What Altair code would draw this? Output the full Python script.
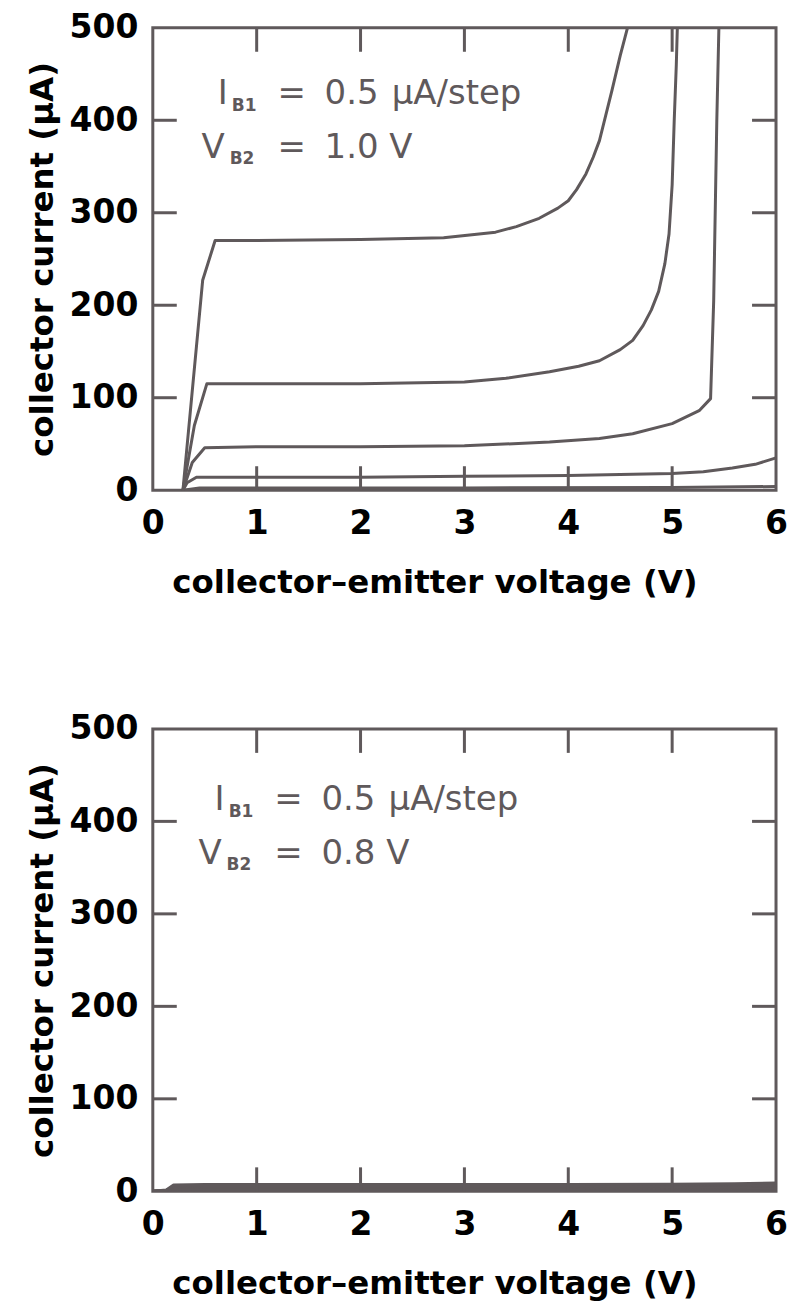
import altair as alt
import pandas as pd

# ---- output characteristics, V_B2 = 1.0 V (collector-emitter voltage in V, collector current in uA)
vce_a1 = [0.29, 0.48, 0.60, 1.0, 2.0, 2.8, 3.3, 3.5, 3.72, 3.9, 4.0, 4.08, 4.17, 4.24, 4.30, 4.36, 4.42, 4.50, 4.57]
ic_a1 = [0, 227, 270, 270, 271, 273, 279, 285, 294, 305, 313, 325, 342, 360, 378, 405, 432, 470, 500]

vce_a2 = [0.29, 0.40, 0.52, 1.0, 2.0, 3.0, 3.4, 3.82, 4.1, 4.30, 4.5, 4.62, 4.72, 4.80, 4.87, 4.93, 4.97, 5.0, 5.02, 5.04, 5.05]
ic_a2 = [0, 70, 115, 115, 115, 117, 121, 128, 134, 140, 152, 162, 178, 195, 215, 245, 277, 330, 400, 460, 500]

vce_a3 = [0.29, 0.38, 0.50, 1.0, 2.0, 3.0, 3.82, 4.3, 4.62, 5.0, 5.26, 5.37, 5.40, 5.43, 5.45]
ic_a3 = [0, 30, 46, 47, 47, 48, 52, 56, 61, 72, 86, 99, 205, 400, 500]

vce_a4 = [0.29, 0.33, 0.42, 1.0, 2.0, 3.0, 4.0, 5.0, 5.3, 5.58, 5.8, 6.0]
ic_a4 = [0, 8, 14, 14, 14, 15, 16, 18, 20, 24, 28, 35]

vce_a5 = [0.29, 0.45, 1.0, 3.0, 5.0, 6.0]
ic_a5 = [0, 2.5, 2.5, 2.5, 3, 4]

# ---- output characteristics, V_B2 = 0.8 V
vce_b = [0.0, 0.13, 0.20, 0.5, 1.0, 2.0, 3.0, 4.0, 5.0, 5.6, 6.0]
ic_b1 = [0, 0.3, 1.2, 1.5, 1.5, 1.5, 1.5, 1.5, 1.6, 1.8, 2.0]
ic_b2 = [0, 0.6, 2.6, 3.0, 3.0, 3.0, 3.0, 3.0, 3.2, 3.5, 3.8]
ic_b3 = [0, 0.9, 4.0, 4.5, 4.5, 4.4, 4.4, 4.5, 4.7, 5.0, 5.5]
ic_b4 = [0, 1.2, 5.4, 6.0, 6.0, 5.9, 5.9, 6.0, 6.2, 6.6, 7.2]
ic_b5 = [0, 1.5, 6.8, 7.5, 7.5, 7.3, 7.3, 7.4, 7.7, 8.2, 9.0]

x_ticks = [1, 2, 3, 4, 5]
y_ticks = [100, 200, 300, 400]
x_labels = [0, 1, 2, 3, 4, 5, 6]
y_labels = [0, 100, 200, 300, 400, 500]

GRAY = "#5f595b"
FONT = "DejaVu Sans"
W, H = 624, 463
TICK = 24


def curves_frame(pairs):
    rows = []
    for name, xs, ys in pairs:
        for k, (v, i) in enumerate(zip(xs, ys)):
            rows.append({"curve": name, "k": k, "v": v, "i": i})
    return pd.DataFrame(rows)


def panel(curves, vb2_text, dx, dy):
    xs = alt.Scale(domain=[0, 6], nice=False, zero=False)
    ys = alt.Scale(domain=[0, 500], nice=False)
    x_axis = alt.Axis(values=x_labels, title="collector–emitter voltage (V)", labelFlush=False,
                      labelPadding=17, titlePadding=26, titleX=282, format="d")
    y_axis = alt.Axis(values=y_labels, title="collector current (µA)", labelPadding=15,
                      titlePadding=10, format="d")
    X = alt.X("v:Q", scale=xs, axis=x_axis)
    Y = alt.Y("i:Q", scale=ys, axis=y_axis)

    lines = alt.Chart(curves).mark_line(color=GRAY, strokeWidth=3, clip=True,
                                        strokeJoin="round", strokeCap="round").encode(
        x=X, y=Y, detail="curve:N", order="k:Q")

    tick_style = dict(color=GRAY, strokeWidth=3)
    xt = pd.DataFrame({"v": x_ticks})
    yt = pd.DataFrame({"i": y_ticks})
    bottom = alt.Chart(xt).mark_rule(**tick_style).encode(
        x=X, y=alt.value(H - TICK), y2=alt.value(H))
    top = alt.Chart(xt).mark_rule(**tick_style).encode(
        x=X, y=alt.value(0), y2=alt.value(TICK))
    left = alt.Chart(yt).mark_rule(**tick_style).encode(
        y=Y, x=alt.value(0), x2=alt.value(TICK))
    right = alt.Chart(yt).mark_rule(**tick_style).encode(
        y=Y, x=alt.value(W - TICK), x2=alt.value(W))

    # legend text, positioned in data units
    main = pd.DataFrame({
        "t": ["I", "=", "0.5", "µA/step", "V", "=", vb2_text],
        "v": [0.625, 1.20, 1.654, 2.30, 0.47, 1.20, 1.654],
        "i": [418, 418, 418, 418, 359.6, 359.6, 359.6],
    })
    main["v"] = main["v"] + dx
    main["i"] = main["i"] + dy
    subs = pd.DataFrame({"t": ["B1", "B2"], "v": [0.76, 0.74], "i": [410.4, 353.0]})
    subs["v"] = subs["v"] + dx
    subs["i"] = subs["i"] + dy

    txt_main = alt.Chart(main).mark_text(font=FONT, fontSize=34, color=GRAY, align="left",
                                         baseline="alphabetic").encode(x=X, y=Y, text="t:N")
    txt_sub = alt.Chart(subs).mark_text(font=FONT, fontSize=17, fontWeight="bold", color=GRAY,
                                        align="left", baseline="alphabetic").encode(x=X, y=Y, text="t:N")

    return alt.layer(lines, bottom, top, left, right, txt_main, txt_sub).properties(width=W, height=H)


top_curves = curves_frame([
    ("a1", vce_a1, ic_a1), ("a2", vce_a2, ic_a2), ("a3", vce_a3, ic_a3),
    ("a4", vce_a4, ic_a4), ("a5", vce_a5, ic_a5),
])
bot_curves = curves_frame([
    ("b1", vce_b, ic_b1), ("b2", vce_b, ic_b2), ("b3", vce_b, ic_b3),
    ("b4", vce_b, ic_b4), ("b5", vce_b, ic_b5),
])

chart = alt.vconcat(
    panel(top_curves, "1.0 V", 0.0, 0.0),
    panel(bot_curves, "0.8 V", -0.03, -5.4),
    spacing=111,
).properties(
    padding={"left": 24, "top": 9, "right": 0, "bottom": 0},
    background="white",
).configure_view(
    stroke=GRAY, strokeWidth=3
).configure_axis(
    grid=False, ticks=False, domain=False,
    labelFont=FONT, labelFontSize=33, labelFontWeight="bold", labelColor="black",
    titleFont=FONT, titleFontSize=32.5, titleFontWeight="bold", titleColor="black",
)

chart.save("out.html", embed_options={"renderer": "svg", "actions": False})
